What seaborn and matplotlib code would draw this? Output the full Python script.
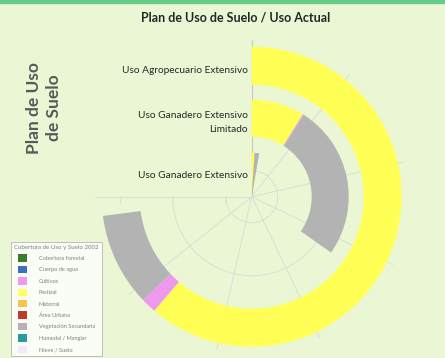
import numpy as np
import seaborn as sns
import matplotlib.pyplot as plt
from matplotlib.patches import Patch, Rectangle

sns.set_style("white")
plt.rcParams['font.family'] = ['Lato', 'DejaVu Sans']

# ---- data ----
categories = ["Uso Ganadero Extensivo", "Uso Ganadero Extensivo\nLimitado", "Uso Agropecuario Extensivo"]
pastizal = [96, 824, 5717]
cultivos = [0, 18, 153]
vegetacion = [161, 2403, 939]
axis_max = 7000
axis_ticks = [0, 1000, 2000, 3000, 4000, 5000, 6000, 7000]

legend_title = "Cobertura de Uso y Suelo 2002"
legend_labels = ["Cobertura forestal", "Cuerpo de agua", "Cultivos", "Pastizal", "Matorral",
                 "Área Urbana", "Vegetación Secundaria", "Humedal / Manglar", "Nieve / Suelo"]
legend_colors = ["#3d7b33", "#3d6fc0", "#ee99ee", "#ffff66", "#f2c451",
                 "#c0392b", "#b3b3b3", "#2a9a9c", "#f1e9fb"]

bg = "#ebf7d4"
grid_c = "#dde0d6"
col_yellow = "#ffff55"
col_pink = "#ee99ee"
col_gray = "#b3b3b3"

# ring geometry (pixels in a 157 px radius pane)
ring_bottom = [2, 60, 112]
ring_height = [42, 37, 38]
ring_center = [26, 79, 131]


def to_theta(v):
    return np.deg2rad(np.asarray(v, dtype=float) / axis_max * 270.0)


fig = plt.figure(figsize=(4.45, 3.58), dpi=100)
fig.patch.set_facecolor(bg)
fig.patches.append(Rectangle((0, 1 - 2.5 / 358), 1, 2.5 / 358, transform=fig.transFigure,
                             color="#66cc88", zorder=5))

cx, cy, R = 251.7, 196.7, 157
ax = fig.add_axes([(cx - R) / 445, (358 - cy - R) / 358, 2 * R / 445, 2 * R / 358], projection="polar")
ax.set_theta_zero_location("N")
ax.set_theta_direction(-1)
ax.set_ylim(0, R)
ax.axis("off")
ax.patch.set_alpha(0)

# grid: spokes at the angular ticks, arcs at category centres
for t in axis_ticks:
    th = to_theta(t)
    c = "#c8c8c8" if t == 0 else grid_c
    ax.plot([th, th], [0, R], color=c, lw=0.8, zorder=1)
arc = np.linspace(0, np.deg2rad(270), 200)
for rc in ring_center[:2]:
    ax.plot(arc, np.full_like(arc, rc), color=grid_c, lw=0.8, zorder=1)
# small tick marks on the end spoke
for rc in ring_center:
    th_end = to_theta(axis_max)
    d = 7 / rc
    ax.plot([th_end, th_end - d], [rc, np.hypot(rc, 7)], color=grid_c, lw=0.8, zorder=1)

# stacked radial bars
start = np.zeros(3)
for vals, col in [(pastizal, col_yellow), (cultivos, col_pink), (vegetacion, col_gray)]:
    vals = np.asarray(vals, dtype=float)
    th0 = to_theta(start)
    w = to_theta(vals)
    ax.bar(th0, ring_height, width=w, bottom=ring_bottom, align="edge",
           color=col, edgecolor="none", zorder=3)
    start = start + vals

# category labels, left of the zero spoke
for lab, rc in zip(categories, ring_center):
    y = cy - rc + 5
    fig.text((cx - 4) / 445, 1 - y / 358, lab, ha="right", va="center",
             fontsize=7.3, color="#262626", linespacing=1.7)

fig.text(236 / 445, 1 - 17 / 358, "Plan de Uso de Suelo / Uso Actual", ha="center", va="center",
         fontsize=9, fontweight="bold", color="#262626")
fig.text(44 / 445, 1 - 108 / 358, "Plan de Uso\nde Suelo", rotation=90, ha="center", va="center",
         fontsize=12.5, fontweight="bold", color="#595959", linespacing=1.3)

handles = [Patch(facecolor=c, edgecolor="none") for c in legend_colors]
leg = fig.legend(handles, legend_labels, title=legend_title, loc="upper left",
                 bbox_to_anchor=(8 / 445, 1 - 239 / 358), fontsize=4.1, title_fontsize=4.4,
                 frameon=True, fancybox=False, handlelength=1.6, handleheight=1.6,
                 labelspacing=0.72, borderpad=0.6, handletextpad=2.0)
leg.get_frame().set_facecolor("white")
leg.get_frame().set_edgecolor("#a6a6a6")
leg.get_frame().set_linewidth(0.6)
for t in leg.get_texts():
    t.set_color("#7f7f7f")
leg.get_title().set_color("#7f7f7f")

fig.savefig("out.png", dpi=100, facecolor=bg)
